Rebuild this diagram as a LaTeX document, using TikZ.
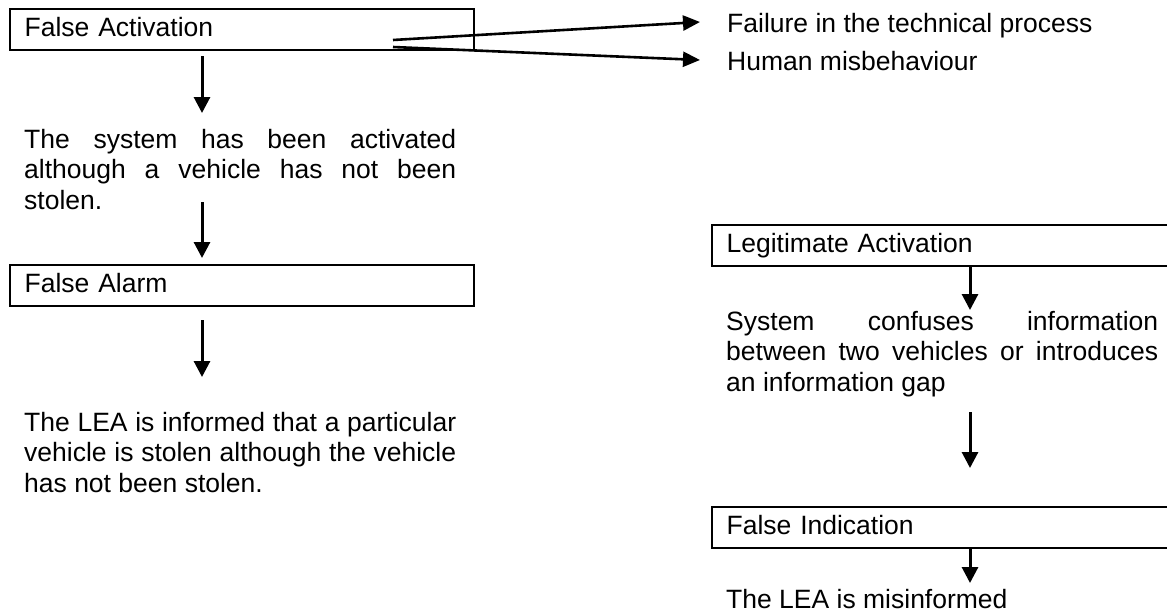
\documentclass[tikz,border=0pt]{standalone}
\usepackage{fontspec}
\setmainfont{Liberation Sans}
\usetikzlibrary{arrows.meta}
\begin{document}
\begin{tikzpicture}[x=1pt,y=-1pt,
  txt/.style={font=\fontsize{26.5}{30.5}\selectfont},
  boxnode/.style={txt, draw, line width=2.3pt, anchor=north west,
    minimum height=41pt, text width=#1, inner xsep=14.5pt, inner ysep=0pt,
    align=left, text height=19pt, text depth=5pt},
  para/.style={txt, anchor=base west, inner sep=0pt, text width=432pt, align=justify,
    execute at begin node={\hyphenpenalty=10000\tolerance=9999}},
  plain/.style={txt, anchor=base west, inner sep=0pt},
  arr/.style={line width=3pt, -{Triangle[length=16pt,width=16pt]}},
  sidearr/.style={line width=2.6pt, -{Triangle[length=17pt,width=15pt]}}]
\useasboundingbox (0,0) rectangle (1167,613);
\clip (0,0) rectangle (1167,613);

% boxes
\node[boxnode=435pt] (factiv) at (9,8) {False Activation};
\node[boxnode=435pt] (falarm) at (9,264) {False Alarm};
\node[boxnode=460pt] (legit) at (711,224) {Legitimate Activation};
\node[boxnode=460pt] (findic) at (711,506) {False Indication};

% texts
\node[plain] (fail) at (727,32) {Failure in the technical process};
\node[plain] (human) at (727,70) {Human misbehaviour};
\node[para] (p1) at (24,148) {The system has been activated\linebreak although a vehicle has not been\linebreak stolen.};
\node[para] (p2) at (24,431) {The LEA is informed that a particular\linebreak vehicle is stolen although the vehicle\linebreak has not been stolen.};
\node[para] (p3) at (726,330) {System confuses information\linebreak between two vehicles or introduces\linebreak an information gap};
\node[plain] (p4) at (726,608) {The LEA is misinformed};

% connector ends
\coordinate (s1) at (393,40);
\coordinate (s2) at (393,47);
\coordinate (t1) at (700,22);
\coordinate (t2) at (700,60);
\coordinate (a1s) at (202,56);
\coordinate (a1e) at (202,113);
\coordinate (a2s) at (202,202);
\coordinate (a2e) at (202,258);
\coordinate (a3s) at (202,320);
\coordinate (a3e) at (202,377);
\coordinate (a4e) at (970,310);
\coordinate (a5s) at (970,412);
\coordinate (a5e) at (970,468);
\coordinate (a6e) at (970,583);

% connectors
\draw[sidearr] (s1) -- (t1);
\draw[sidearr] (s2) -- (t2);
\draw[arr] (a1s) -- (a1e);
\draw[arr] (a2s) -- (a2e);
\draw[arr] (a3s) -- (a3e);
\draw[arr] (legit.south -| a4e) -- (a4e);
\draw[arr] (a5s) -- (a5e);
\draw[arr] (findic.south -| a6e) -- (a6e);
\end{tikzpicture}
\end{document}
